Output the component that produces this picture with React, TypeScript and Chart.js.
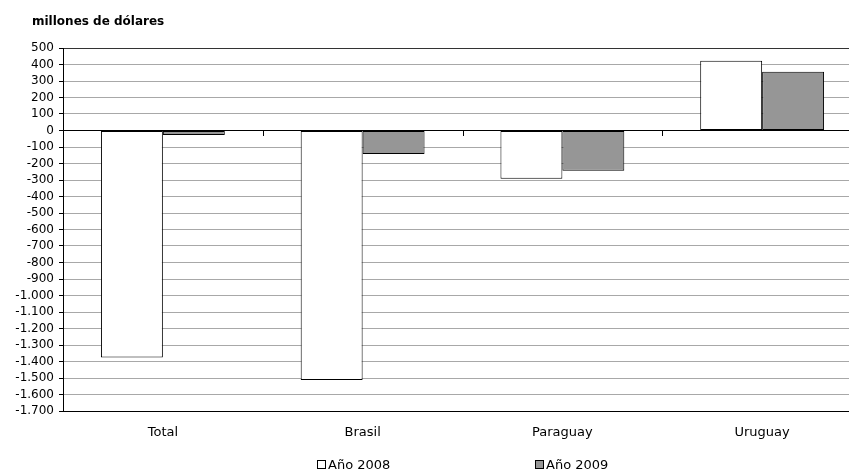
import React, { useEffect, useRef } from "react";
import { Chart, registerables } from "chart.js";

Chart.register(...registerables);

const categories = ["Total", "Brasil", "Paraguay", "Uruguay"];
const series2008 = [-1375, -1512, -292, 423];
const series2009 = [-27, -142, -244, 356];
const seriesNames = ["Año 2008", "Año 2009"];
const yMin = -1700;
const yMax = 500;
const yStep = 100;
const titleText = "millones de dólares";

const FONT = "'DejaVu Sans', 'Liberation Sans', Arial, sans-serif";

function fmt(v: number): string {
  const s = Math.abs(v).toString().replace(/\B(?=(\d{3})+(?!\d))/g, ".");
  return v < 0 ? "-" + s : s;
}

const extrasPlugin = {
  id: "extras",
  afterDatasetsDraw(chart: any) {
    const { ctx, scales } = chart;
    const x = scales.x;
    const y = scales.y;
    const y0 = y.getPixelForValue(0);
    ctx.save();
    ctx.strokeStyle = "#000";
    ctx.lineWidth = 1;
    for (let i = 1; i < categories.length; i++) {
      const px = (x.getPixelForValue(i - 1) + x.getPixelForValue(i)) / 2;
      ctx.beginPath();
      ctx.moveTo(Math.round(px) + 0.5, Math.round(y0));
      ctx.lineTo(Math.round(px) + 0.5, Math.round(y0) + 5);
      ctx.stroke();
    }
    ctx.restore();
  },
  afterDraw(chart: any) {
    const { ctx, chartArea } = chart;
    ctx.save();
    ctx.fillStyle = "#000";
    ctx.font = `bold 12px ${FONT}`;
    ctx.textBaseline = "alphabetic";
    ctx.textAlign = "left";
    ctx.fillText(titleText, 32, 25);
    ctx.font = `13px ${FONT}`;
    ctx.textBaseline = "middle";
    const spacing = 218;
    const items = chart.data.datasets.map((d: any) => ({
      label: d.label,
      color: d.backgroundColor,
    }));
    const lastW = 11 + ctx.measureText(items[items.length - 1].label).width;
    const totalW = spacing * (items.length - 1) + lastW;
    const cx = (chartArea.left + chartArea.right) / 2;
    const sx = Math.round(cx - totalW / 2);
    const cy = 464.5;
    items.forEach((it: any, i: number) => {
      const bx = sx + i * spacing;
      ctx.fillStyle = it.color;
      ctx.fillRect(bx, cy - 4.5, 9, 9);
      ctx.strokeStyle = "#000";
      ctx.lineWidth = 1;
      ctx.strokeRect(bx + 0.5, cy - 4, 8, 8);
      ctx.fillStyle = "#000";
      ctx.fillText(it.label, bx + 11, cy + 1);
    });
    ctx.restore();
  },
};

export default function App() {
  const ref = useRef<HTMLCanvasElement>(null);
  useEffect(() => {
    if (!ref.current) return;
    const chart = new Chart(ref.current, {
      type: "bar",
      data: {
        labels: categories,
        datasets: [
          {
            label: seriesNames[0],
            data: series2008,
            backgroundColor: "#ffffff",
            borderColor: "#000000",
            borderWidth: 1,
            borderSkipped: false,
            barPercentage: 1,
            categoryPercentage: 0.62,
          },
          {
            label: seriesNames[1],
            data: series2009,
            backgroundColor: "#969696",
            borderColor: "#000000",
            borderWidth: 1,
            borderSkipped: false,
            barPercentage: 1,
            categoryPercentage: 0.62,
          },
        ],
      },
      options: {
        animation: false,
        responsive: false,
        maintainAspectRatio: false,
        layout: { padding: { top: 48, left: 0, right: 38, bottom: 34 } },
        plugins: {
          legend: { display: false },
          title: { display: false },
          tooltip: { enabled: false },
        },
        scales: {
          x: {
            grid: { display: false, drawTicks: false },
            border: { display: true, color: "#000", width: 1 },
            ticks: {
              color: "#000",
              font: { family: FONT, size: 13 },
              padding: 14,
              maxRotation: 0,
            },
            afterFit(scale: any) {
              scale.height = 30;
            },
          },
          y: {
            min: yMin,
            max: yMax,
            ticks: {
              stepSize: yStep,
              autoSkip: false,
              color: "#000",
              font: { family: FONT, size: 12 },
              padding: 5,
              callback: (v: any) => fmt(Number(v)),
            },
            grid: {
              color: (c: any) => {
                const v = c.tick ? c.tick.value : 0;
                if (v === yMax) return "#333333";
                if (v === 0 || v === yMin) return "#000000";
                return "#a8a8a8";
              },
              tickColor: "#000000",
              tickLength: 4,
              lineWidth: 1,
            },
            border: { display: true, color: "#000", width: 1 },
            afterFit(scale: any) {
              scale.width = 63;
            },
          },
        },
      },
      plugins: [extrasPlugin],
    });
    return () => chart.destroy();
  }, []);
  return (
    <div
      style={{
        position: "fixed",
        left: 0,
        top: 0,
        width: 849,
        height: 475,
        overflow: "hidden",
        background: "#fff",
      }}
    >
      <canvas ref={ref} width={900} height={475} style={{ display: "block" }} />
    </div>
  );
}
